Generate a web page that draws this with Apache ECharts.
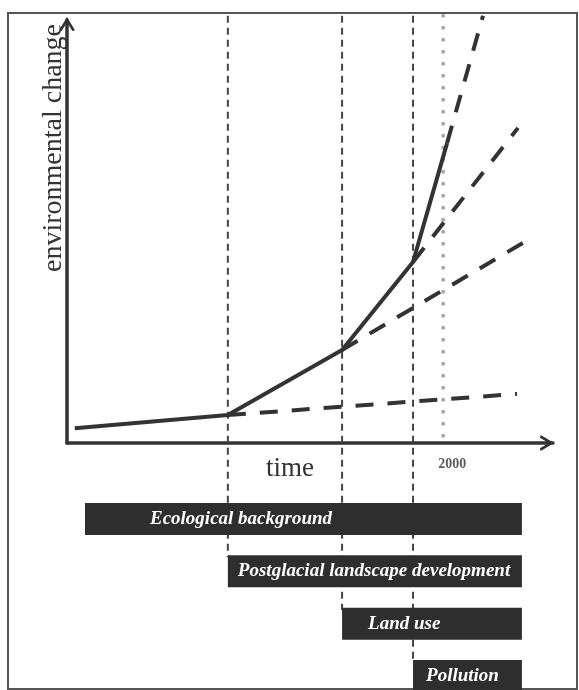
<!DOCTYPE html>
<html>
<head>
<meta charset="utf-8">
<script src="https://cdn.jsdelivr.net/npm/echarts@6/dist/echarts.min.js"></script>
<style>
  html, body { margin: 0; padding: 0; background: #fff; }
  #main { width: 579px; height: 690px; }
</style>
</head>
<body>
<div id="main"></div>
<script>
// x = time, y = environmental change, both in arbitrary 0..100 units
const trendX = [1.6, 33.1, 56.6, 71.2, 78.2];
const trendY = [3.5, 6.6, 22.0, 42.8, 70.9];

// dashed continuations: [x0, y0, x1, y1]
const projFlat = [33.1, 6.6, 92.6, 11.6];
const projLow = [56.6, 22.0, 93.8, 47.3];
const projMid = [71.2, 42.8, 92.8, 74.5];
const projHigh = [78.2, 70.9, 85.6, 101];

// phase boundaries (vertical dashed lines) and how far down they run
const phaseX = [33.1, 56.6, 71.2];
const phaseBottom = [-27, -39.5, -52];
const yearX = 77.4;
const yearLabel = '2000';

const phaseNames = ['Ecological background', 'Postglacial landscape development', 'Land use', 'Pollution'];
const phaseStart = [3.7, 33.1, 56.6, 71.2];
const phaseEnd = [93.6, 93.6, 93.6, 93.6];

const chart = echarts.init(document.getElementById('main'), null, { renderer: 'canvas' });

const ink = '#333';
const serif = '"Liberation Serif", "Times New Roman", serif';
const chevron = 'path://M0,15 L9,0 L18,15 L15,16 L9,6 L3,16 Z';
const labelInset = [65, 10, 26, 13];

function seg(p) {
    return [[p[0], p[1]], [p[2], p[3]]];
}

const series = [];

phaseX.forEach((x, i) => {
    series.push({
        type: 'line',
        data: [[x, 101], [x, phaseBottom[i]]],
        symbol: 'none',
        clip: false,
        silent: true,
        z: 1,
        lineStyle: { color: '#444', width: 2, type: [7, 5] }
    });
});

series.push({
    type: 'line',
    data: [[yearX, 101], [yearX, 0]],
    symbol: 'none',
    clip: false,
    z: 1,
    lineStyle: { color: '#a8a8a8', width: 4, type: [0.1, 11.9], cap: 'round' }
});
series.push({
    type: 'scatter',
    data: [[yearX, 0]],
    symbolSize: 0,
    label: {
        show: true,
        position: 'bottom',
        distance: 14,
        offset: [9, 0],
        formatter: yearLabel,
        fontFamily: serif,
        fontWeight: 'bold',
        fontSize: 14,
        color: ink
    }
});

[projFlat, projLow, projMid, projHigh].forEach((p) => {
    series.push({
        type: 'line',
        data: seg(p),
        symbol: 'none',
        clip: false,
        z: 3,
        lineStyle: { color: ink, width: 4, type: [18, 14] }
    });
});

series.push({
    type: 'line',
    data: trendX.map((x, i) => [x, trendY[i]]),
    symbol: 'none',
    clip: false,
    z: 4,
    lineStyle: { color: ink, width: 4 }
});

// phase bars: invisible offset + visible span
series.push({
    type: 'bar',
    xAxisIndex: 1,
    yAxisIndex: 1,
    stack: 'phase',
    data: phaseStart,
    barWidth: 32,
    itemStyle: { color: 'transparent' },
    silent: true
});
series.push({
    type: 'bar',
    xAxisIndex: 1,
    yAxisIndex: 1,
    stack: 'phase',
    z: 5,
    barWidth: 32,
    data: phaseEnd.map((v, i) => ({
        value: v - phaseStart[i],
        label: { distance: labelInset[i] }
    })),
    itemStyle: { color: '#2e2e2e' },
    label: {
        show: true,
        position: 'insideLeft',
        formatter: (p) => phaseNames[p.dataIndex],
        color: '#fff',
        fontFamily: serif,
        fontStyle: 'italic',
        fontWeight: 'bold',
        fontSize: 19
    }
});

const axisArrow = (offset) => ({
    show: true,
    onZero: false,
    symbol: ['none', chevron],
    symbolSize: [16, 16],
    symbolOffset: [0, offset],
    lineStyle: { color: ink, width: 3.5 }
});

const option = {
    backgroundColor: '#fff',
    animation: false,
    grid: [
        { left: 67, right: 26, top: 20, bottom: 247 },
        { left: 67, right: 26, top: 519, height: 157 }
    ],
    xAxis: [
        {
            type: 'value',
            min: 0,
            max: 100,
            name: 'time',
            nameLocation: 'middle',
            nameGap: 12,
            nameTextStyle: {
                fontFamily: serif,
                fontSize: 27,
                color: ink,
                verticalAlign: 'top',
                padding: [0, 40, 0, 0]
            },
            axisLine: axisArrow(-6),
            axisTick: { show: false },
            axisLabel: { show: false },
            splitLine: { show: false }
        },
        { type: 'value', gridIndex: 1, min: 0, max: 100, show: false }
    ],
    yAxis: [
        {
            type: 'value',
            min: 0,
            max: 100,
            axisLine: axisArrow(-4),
            axisTick: { show: false },
            axisLabel: { show: false },
            splitLine: { show: false }
        },
        {
            type: 'category',
            gridIndex: 1,
            data: phaseNames,
            inverse: true,
            boundaryGap: false,
            show: false
        }
    ],
    graphic: [
        {
            type: 'rect',
            shape: { x: 8, y: 13, width: 569, height: 676 },
            style: { fill: 'none', stroke: '#555', lineWidth: 2 },
            silent: true,
            z: -1
        },
        {
            type: 'text',
            x: 54,
            y: 148,
            rotation: Math.PI / 2,
            style: {
                text: 'environmental change',
                fontFamily: serif,
                fontSize: 28,
                fill: ink,
                align: 'center',
                verticalAlign: 'middle'
            }
        }
    ],
    series: series
};

chart.setOption(option);
</script>
</body>
</html>
